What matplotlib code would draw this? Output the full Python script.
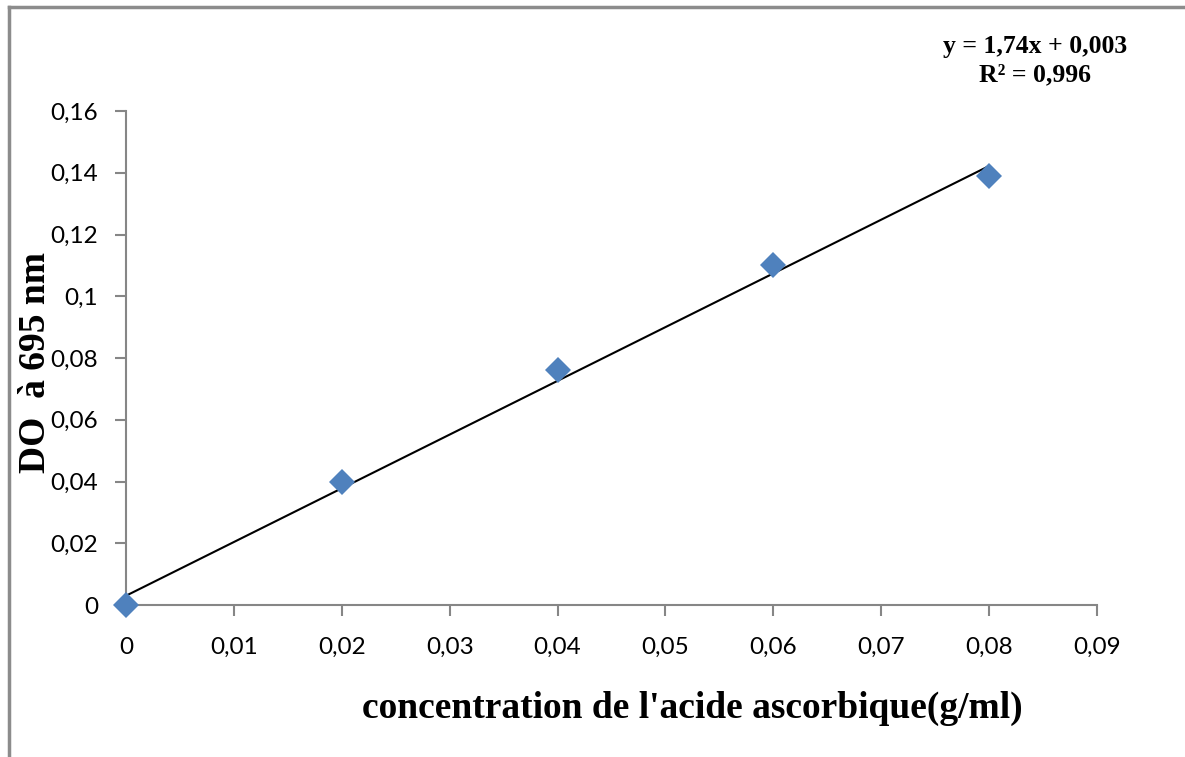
import numpy as np
import matplotlib.pyplot as plt
from matplotlib.lines import Line2D

# data
conc = [0, 0.02, 0.04, 0.06, 0.08]
do = [0, 0.04, 0.076, 0.11, 0.139]
slope = 1.74
intercept = 0.003

x_ticks = [0, 0.01, 0.02, 0.03, 0.04, 0.05, 0.06, 0.07, 0.08, 0.09]
x_labels = ['0', '0,01', '0,02', '0,03', '0,04', '0,05', '0,06', '0,07', '0,08', '0,09']
y_ticks = [0, 0.02, 0.04, 0.06, 0.08, 0.1, 0.12, 0.14, 0.16]
y_labels = ['0', '0,02', '0,04', '0,06', '0,08', '0,1', '0,12', '0,14', '0,16']

fig = plt.figure(figsize=(11.85, 7.57), dpi=100)
ax = fig.add_axes([126/1185, 152/757, (1097-126)/1185, (605-111)/757])

# trend line
xs = np.array([conc[0], conc[-1]])
ax.plot(xs, slope*xs + intercept, color='black', lw=1.5, zorder=2)
ax.plot(conc, do, 'D', color='#4F81BD', markersize=13, markeredgewidth=0, zorder=3, clip_on=False)

ax.set_xlim(0, 0.09)
ax.set_ylim(0, 0.16)
ax.set_xticks(x_ticks)
ax.set_xticklabels(x_labels)
ax.set_yticks(y_ticks)
ax.set_yticklabels(y_labels)
for s in ['top', 'right']:
    ax.spines[s].set_visible(False)
for s in ['left', 'bottom']:
    ax.spines[s].set_color('#868686')
    ax.spines[s].set_linewidth(1.5)
ax.tick_params(direction='out', length=8, width=1.5, color='#868686', labelsize=17.5)
ax.tick_params(axis='x', pad=15)
ax.tick_params(axis='y', pad=12)
for t in ax.get_xticklabels() + ax.get_yticklabels():
    t.set_fontfamily('Lato')

fig.text(692/1185, 1 - 708/757, "concentration de l'acide ascorbique(g/ml)",
         ha='center', va='center', family='Liberation Serif', weight='bold', fontsize=27)
fig.text(36/1185, 1 - 362/757, "DO  à 695 nm", rotation=90,
         ha='center', va='center', family='Liberation Serif', weight='bold', fontsize=27)
fig.text(1035/1185, 1 - 61/757, "y = 1,74x + 0,003\nR² = 0,996", ha='center', va='center',
         family='Liberation Serif', weight='bold', fontsize=18.5, linespacing=1.3)

# chart area border (top and left visible)
fig.add_artist(Line2D([9/1185, 9/1185], [0, 1 - 7/757], transform=fig.transFigure, color='#8c8c8c', lw=2.5))
fig.add_artist(Line2D([9/1185, 1], [1 - 7/757, 1 - 7/757], transform=fig.transFigure, color='#8c8c8c', lw=2.5))

plt.savefig('out.png', dpi=100)
